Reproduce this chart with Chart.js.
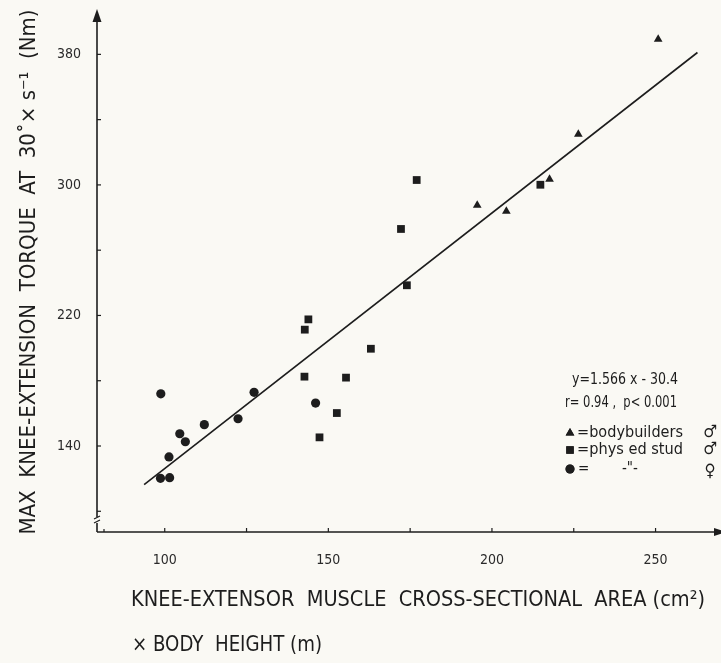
<!DOCTYPE html>
<html>
<head>
<meta charset="utf-8">
<script src="https://cdn.jsdelivr.net/npm/chart.js@4/dist/chart.umd.min.js"></script>
<style>
  html, body { margin: 0; padding: 0; background: #faf9f4; }
  #wrap { width: 721px; height: 663px; }
</style>
</head>
<body>
<div id="wrap"><canvas id="c" width="721" height="663"></canvas></div>
<script>
// ---- data ----
const bodybuildersX = [195.5, 204.4, 217.6, 226.4, 250.8];
const bodybuildersY = [287.5, 283.8, 303.4, 331.0, 389.2];

const studMaleX = [142.7, 142.8, 143.9, 147.3, 152.6, 155.4, 163.0, 172.2, 174.0, 177.0, 214.8];
const studMaleY = [182.5, 211.3, 217.6, 145.3, 160.2, 181.9, 199.6, 273.0, 238.5, 303.0, 300.1];

const studFemaleX = [98.8, 98.7, 101.5, 101.3, 104.6, 106.3, 112.1, 122.4, 127.3, 146.1];
const studFemaleY = [172.0, 120.2, 120.6, 133.3, 147.5, 142.6, 153.1, 156.7, 172.9, 166.3];

// regression: y = 1.566 x - 30.4, drawn between these x values
const regSlope = 1.566;
const regIntercept = -30.4;
const regLineX = [93.7, 262.8];

// axes
const xRange = [79.3, 270];
const yRange = [87.3, 407.8];
const xTickValues = [100, 125, 150, 175, 200, 225, 250];
const xTickLabels = [100, 150, 200, 250];
const yTickValues = [100, 140, 180, 220, 260, 300, 340, 380];
const yTickLabels = [140, 220, 300, 380];

const INK = '#1d1d1d';
const BG = '#faf9f4';
const FONT = "'DejaVu Sans Condensed', 'Liberation Sans Narrow', 'DejaVu Sans', sans-serif";

const pts = (xs, ys) => xs.map((v, i) => ({ x: v, y: ys[i] }));
const regPts = regLineX.map(v => ({ x: v, y: regSlope * v + regIntercept }));

function drawScaledText(ctx, text, x, y, targetW, align) {
  const w = ctx.measureText(text).width;
  const s = targetW / w;
  ctx.save();
  ctx.translate(x, y);
  ctx.scale(s, 1);
  ctx.textAlign = align || 'left';
  ctx.fillText(text, 0, 0);
  ctx.restore();
}

function zeroPad(s) {
  s.paddingTop = 0; s.paddingBottom = 0; s.paddingLeft = 0; s.paddingRight = 0;
}

const decor = {
  id: 'decor',
  beforeDraw(chart) {
    const ctx = chart.ctx;
    ctx.save();
    ctx.fillStyle = BG;
    ctx.fillRect(0, 0, chart.width, chart.height);
    ctx.restore();
  },
  afterDraw(chart) {
    const { ctx, chartArea: a, scales: { x, y } } = chart;
    ctx.save();
    ctx.strokeStyle = INK;
    ctx.fillStyle = INK;
    ctx.lineWidth = 1.6;
    const x0 = a.left, y0 = a.bottom;
    // y axis
    ctx.beginPath();
    ctx.moveTo(x0, y0); ctx.lineTo(x0, a.top + 8);
    ctx.stroke();
    ctx.beginPath();
    ctx.moveTo(x0, a.top); ctx.lineTo(x0 - 4.5, a.top + 13); ctx.lineTo(x0 + 4.5, a.top + 13); ctx.closePath();
    ctx.fill();
    // x axis
    ctx.beginPath();
    ctx.moveTo(x0, y0); ctx.lineTo(a.right, y0);
    ctx.stroke();
    ctx.beginPath();
    ctx.moveTo(a.right + 5, y0); ctx.lineTo(a.right - 7, y0 - 4); ctx.lineTo(a.right - 7, y0 + 4); ctx.closePath();
    ctx.fill();
    // ticks (inward)
    ctx.lineWidth = 1.2;
    yTickValues.forEach(v => {
      const py = y.getPixelForValue(v);
      ctx.beginPath(); ctx.moveTo(x0, py); ctx.lineTo(x0 + 4, py); ctx.stroke();
    });
    xTickValues.forEach(v => {
      const px = x.getPixelForValue(v);
      ctx.beginPath(); ctx.moveTo(px, y0); ctx.lineTo(px, y0 - 4); ctx.stroke();
    });
    // axis break marks
    ctx.lineWidth = 1.2;
    const by = y0 - 12;
    ctx.fillStyle = BG;
    ctx.fillRect(x0 - 3, by - 3, 6, 6);
    ctx.beginPath();
    ctx.moveTo(x0 - 3, by - 1); ctx.lineTo(x0 + 3, by - 4);
    ctx.moveTo(x0 - 3, by + 3); ctx.lineTo(x0 + 3, by);
    ctx.stroke();
    ctx.beginPath();
    ctx.moveTo(x0 + 7, y0); ctx.lineTo(x0 + 7, y0 - 3); ctx.stroke();

    // axis titles
    ctx.fillStyle = INK;
    ctx.textBaseline = 'middle';
    ctx.font = '21px ' + FONT;
    drawScaledText(ctx, 'KNEE-EXTENSOR  MUSCLE  CROSS-SECTIONAL  AREA (cm²)', 418, 601, 574, 'center');
    drawScaledText(ctx, '× BODY  HEIGHT (m)', 132, 646, 190, 'left');
    ctx.save();
    ctx.translate(30, 272);
    ctx.rotate(-Math.PI / 2);
    ctx.font = '21px ' + FONT;
    drawScaledText(ctx, 'MAX  KNEE-EXTENSION  TORQUE  AT  30˚× s⁻¹  (Nm)', 0, 0, 525, 'center');
    ctx.restore();

    // legend / statistics block
    ctx.font = '15px ' + FONT;
    drawScaledText(ctx, 'y=1.566 x - 30.4', 572, 380, 106, 'left');
    drawScaledText(ctx, 'r= 0.94 ,  p< 0.001', 565, 403, 112, 'left');
    const rows = [
      { style: 'triangle', r: 5, text: '=bodybuilders', sym: '♂', yy: 433 },
      { style: 'rect', r: 5.3, text: '=phys ed stud', sym: '♂', yy: 450 },
      { style: 'circle', r: 4.5, text: '=', sym: '♀', yy: 469 }
    ];
    rows.forEach(rw => {
      Chart.helpers.drawPoint(ctx, { pointStyle: rw.style, radius: rw.r, borderWidth: 0 }, 570, rw.yy);
      ctx.fillStyle = INK;
      ctx.fill();
      ctx.fillStyle = INK;
      ctx.font = '15px ' + FONT;
      if (rw.text.length > 1) drawScaledText(ctx, rw.text, 577, rw.yy, 106, 'left');
      else ctx.fillText(rw.text, 578, rw.yy);
      ctx.font = '17px ' + FONT;
      ctx.textAlign = 'center';
      ctx.fillText(rw.sym, 710, rw.yy + (rw.sym === '♀' ? 3 : 0));
      ctx.textAlign = 'left';
    });
    ctx.font = '15px ' + FONT;
    ctx.fillText('-"-', 622, 469);
    ctx.restore();
  }
};

const tickFont = { family: FONT, size: 14 };

new Chart(document.getElementById('c'), {
  type: 'scatter',
  data: {
    datasets: [
      { label: 'bodybuilders ♂', data: pts(bodybuildersX, bodybuildersY), pointStyle: 'triangle', pointRadius: 5, backgroundColor: INK, borderColor: INK, borderWidth: 0 },
      { label: 'phys ed stud ♂', data: pts(studMaleX, studMaleY), pointStyle: 'rect', pointRadius: 5.5, backgroundColor: INK, borderColor: INK, borderWidth: 0 },
      { label: 'phys ed stud ♀', data: pts(studFemaleX, studFemaleY), pointStyle: 'circle', pointRadius: 4.6, backgroundColor: INK, borderColor: INK, borderWidth: 0 },
      { type: 'line', label: 'regression', data: regPts, showLine: true, pointRadius: 0, borderColor: INK, borderWidth: 1.6, fill: false }
    ]
  },
  options: {
    responsive: false,
    animation: false,
    devicePixelRatio: 1,
    layout: { autoPadding: false, padding: { left: 0, top: 9, right: 0, bottom: 0 } },
    plugins: { legend: { display: false }, tooltip: { enabled: false } },
    scales: {
      x: {
        type: 'linear', min: xRange[0], max: xRange[1],
        afterBuildTicks: s => { s.ticks = xTickValues.map(v => ({ value: v })); },
        afterFit: s => { s.height = 131; zeroPad(s); },
        grid: { display: false, drawTicks: false },
        border: { display: false },
        ticks: { autoSkip: false, maxRotation: 0, padding: 20, color: '#2a2a2a', font: tickFont,
          callback: v => xTickLabels.includes(v) ? String(v) : '' }
      },
      y: {
        type: 'linear', min: yRange[0], max: yRange[1],
        afterBuildTicks: s => { s.ticks = yTickValues.map(v => ({ value: v })); },
        afterFit: s => { s.width = 97; zeroPad(s); },
        grid: { display: false, drawTicks: false },
        border: { display: false },
        ticks: { autoSkip: false, padding: 16, color: '#2a2a2a', font: tickFont,
          callback: v => yTickLabels.includes(v) ? String(v) : '' }
      }
    }
  },
  plugins: [decor]
});
</script>
</body>
</html>
